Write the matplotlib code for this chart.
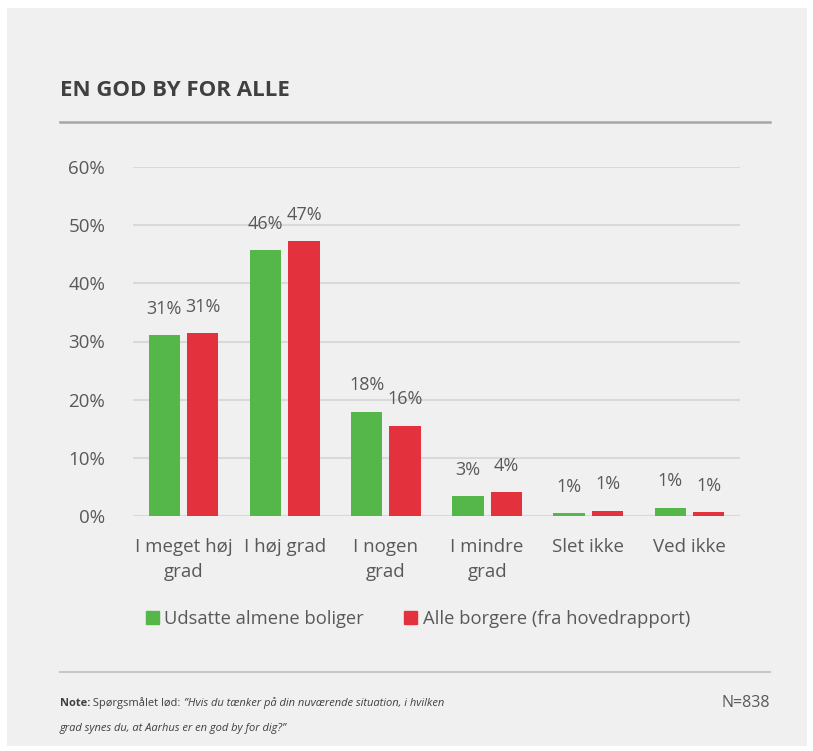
import numpy as np
import matplotlib
matplotlib.use('Agg')
import matplotlib.pyplot as plt
from matplotlib.patches import Rectangle
from matplotlib.lines import Line2D

plt.rcParams['font.family'] = ['Open Sans', 'DejaVu Sans']

categories = ['I meget høj\ngrad', 'I høj grad', 'I nogen\ngrad', 'I mindre\ngrad', 'Slet ikke', 'Ved ikke']
udsatte = [31.1, 45.7, 17.9, 3.4, 0.5, 1.4]
alle = [31.4, 47.2, 15.5, 4.1, 0.9, 0.7]
udsatte_labels = ['31%', '46%', '18%', '3%', '1%', '1%']
alle_labels = ['31%', '47%', '16%', '4%', '1%', '1%']
yticks = [0, 10, 20, 30, 40, 50, 60]

GREEN = '#55b74a'
RED = '#e3313e'
TXT = '#595959'

W, H = 813, 751
fig = plt.figure(figsize=(W / 100, H / 100), dpi=100)
fig.patch.set_facecolor('white')

# grey panel
fig.add_artist(Rectangle((7 / W, 1 - 746 / H), 800 / W, 738 / H, transform=fig.transFigure,
                         facecolor='#f0f0f0', edgecolor='none', zorder=0))

# axes area: x 133..740, y 167..516 (pixels)
ax = fig.add_axes([133 / W, 1 - 516 / H, 607 / W, 349 / H])
ax.set_facecolor('none')
x = np.arange(len(categories))
bw = 0.31
b1 = ax.bar(x - 0.19, udsatte, bw, color=GREEN, zorder=3)
b2 = ax.bar(x + 0.19, alle, bw, color=RED, zorder=3)
for bars, labs in ((b1, udsatte_labels), (b2, alle_labels)):
    for r, lab in zip(bars, labs):
        ax.annotate(lab, (r.get_x() + r.get_width() / 2, r.get_height()), xytext=(0, 19),
                    textcoords='offset points', ha='center', va='center', fontsize=13, color=TXT)

ax.set_xlim(-0.5, len(categories) - 0.5)
ax.set_ylim(0, 60)
ax.set_yticks(yticks)
ax.set_yticklabels([f'{t}%' for t in yticks])
ax.yaxis.grid(True, color='#d9d9d9', linewidth=1.5, zorder=0)
ax.set_xticks(x)
ax.set_xticklabels(categories, linespacing=1.5)
ax.tick_params(axis='both', length=0, labelsize=13.5, labelcolor=TXT)
ax.tick_params(axis='y', pad=20)
ax.tick_params(axis='x', pad=16)
for s in ax.spines.values():
    s.set_visible(False)
ax.axhline(0, color='#d9d9d9', linewidth=1.5, zorder=2)

# legend
handles = [Rectangle((0, 0), 1, 1, color=GREEN), Rectangle((0, 0), 1, 1, color=RED)]
fig.legend(handles, ['Udsatte almene boliger', 'Alle borgere (fra hovedrapport)'],
           loc='center', bbox_to_anchor=(418 / W, 1 - 619 / H), ncol=2, frameon=False,
           fontsize=13.2, labelcolor=TXT, handlelength=0.7, handleheight=0.7,
           handletextpad=0.3, columnspacing=2.2)

# title and rules
fig.text(60 / W, 1 - 91 / H, 'EN GOD BY FOR ALLE', fontsize=16, fontweight='bold',
         color='#404040', ha='left', va='center')
fig.add_artist(Line2D([60 / W, 770 / W], [1 - 122 / H] * 2, transform=fig.transFigure,
                      color='#a6a6a6', linewidth=1.8))
fig.add_artist(Line2D([60 / W, 770 / W], [1 - 672 / H] * 2, transform=fig.transFigure,
                      color='#c8c8c8', linewidth=1.5))

# note, pieces placed one after another
fig.canvas.draw()
renderer = fig.canvas.get_renderer()
xpos = 60
for txt, kw in (('Note:', dict(fontweight='bold')),
                (' Spørgsmålet lød: ', {}),
                ('”Hvis du tænker på din nuværende situation, i hvilken', dict(style='italic'))):
    t = fig.text(xpos / W, 1 - 703 / H, txt, fontsize=8, color='#404040',
                 ha='left', va='center', **kw)
    xpos += t.get_window_extent(renderer).width
fig.text(60 / W, 1 - 729 / H, 'grad synes du, at Aarhus er en god by for dig?”',
         fontsize=8, style='italic', color='#404040', ha='left', va='center')
fig.text(770 / W, 1 - 703 / H, 'N=838', fontsize=11.5, color=TXT, ha='right', va='center')

fig.savefig('out.png', dpi=100)
